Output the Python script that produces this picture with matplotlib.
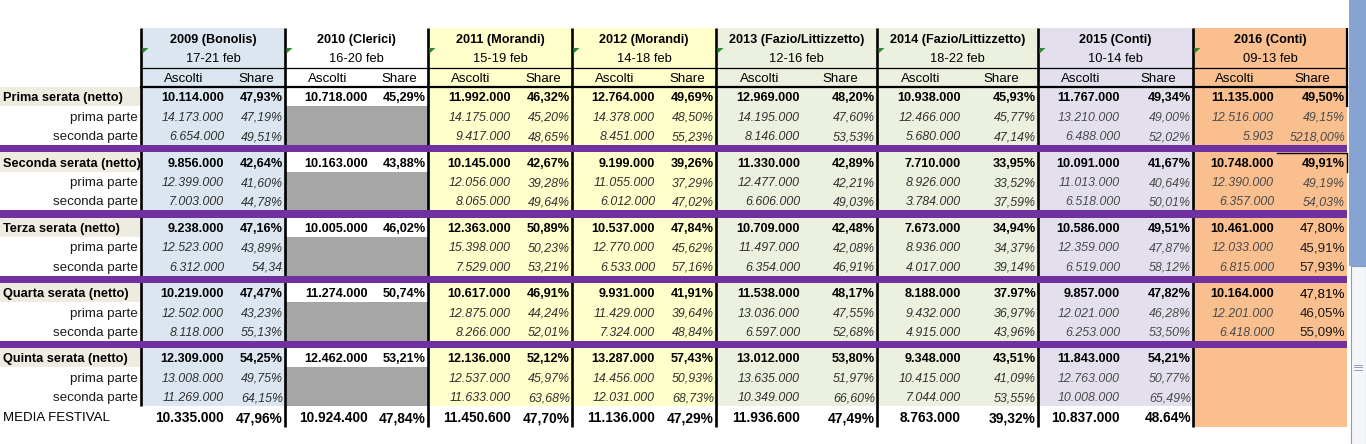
import matplotlib
matplotlib.use("Agg")
import matplotlib.pyplot as plt
from matplotlib.patches import Rectangle, Polygon

# ---------------- data ----------------
years = ["2009 (Bonolis)", "2010 (Clerici)", "2011 (Morandi)", "2012 (Morandi)",
         "2013 (Fazio/Littizzetto)", "2014 (Fazio/Littizzetto)", "2015 (Conti)", "2016 (Conti)"]
dates = ["17-21 feb", "16-20 feb", "15-19 feb", "14-18 feb", "12-16 feb", "18-22 feb", "10-14 feb", "09-13 feb"]
sub_headers = ["Ascolti", "Share"]
serate = ["Prima serata (netto)", "Seconda serata (netto)", "Terza serata (netto)",
          "Quarta serata (netto)", "Quinta serata (netto)"]
parti = ["prima parte", "seconda parte"]
media_label = "MEDIA FESTIVAL"

# each list: 5 serate x [netto, prima parte, seconda parte]
ascolti_2009 = ["10.114.000", "14.173.000", "6.654.000", "9.856.000", "12.399.000", "7.003.000",
                "9.238.000", "12.523.000", "6.312.000", "10.219.000", "12.502.000", "8.118.000",
                "12.309.000", "13.008.000", "11.269.000"]
share_2009 = ["47,93%", "47,19%", "49,51%", "42,64%", "41,60%", "44,78%", "47,16%", "43,89%", "54,34",
              "47,47%", "43,23%", "55,13%", "54,25%", "49,75%", "64,15%"]
ascolti_2010 = ["10.718.000", None, None, "10.163.000", None, None, "10.005.000", None, None,
                "11.274.000", None, None, "12.462.000", None, None]
share_2010 = ["45,29%", None, None, "43,88%", None, None, "46,02%", None, None,
              "50,74%", None, None, "53,21%", None, None]
ascolti_2011 = ["11.992.000", "14.175.000", "9.417.000", "10.145.000", "12.056.000", "8.065.000",
                "12.363.000", "15.398.000", "7.529.000", "10.617.000", "12.875.000", "8.266.000",
                "12.136.000", "12.537.000", "11.633.000"]
share_2011 = ["46,32%", "45,20%", "48,65%", "42,67%", "39,28%", "49,64%", "50,89%", "50,23%", "53,21%",
              "46,91%", "44,24%", "52,01%", "52,12%", "45,97%", "63,68%"]
ascolti_2012 = ["12.764.000", "14.378.000", "8.451.000", "9.199.000", "11.055.000", "6.012.000",
                "10.537.000", "12.770.000", "6.533.000", "9.931.000", "11.429.000", "7.324.000",
                "13.287.000", "14.456.000", "12.031.000"]
share_2012 = ["49,69%", "48,50%", "55,23%", "39,26%", "37,29%", "47,02%", "47,84%", "45,62%", "57,16%",
              "41,91%", "39,64%", "48,84%", "57,43%", "50,93%", "68,73%"]
ascolti_2013 = ["12.969.000", "14.195.000", "8.146.000", "11.330.000", "12.477.000", "6.606.000",
                "10.709.000", "11.497.000", "6.354.000", "11.538.000", "13.036.000", "6.597.000",
                "13.012.000", "13.635.000", "10.349.000"]
share_2013 = ["48,20%", "47,60%", "53,53%", "42,89%", "42,21%", "49,03%", "42,48%", "42,08%", "46,91%",
              "48,17%", "47,55%", "52,68%", "53,80%", "51,97%", "66,60%"]
ascolti_2014 = ["10.938.000", "12.466.000", "5.680.000", "7.710.000", "8.926.000", "3.784.000",
                "7.673.000", "8.936.000", "4.017.000", "8.188.000", "9.432.000", "4.915.000",
                "9.348.000", "10.415.000", "7.044.000"]
share_2014 = ["45,93%", "45,77%", "47,14%", "33,95%", "33,52%", "37,59%", "34,94%", "34,37%", "39,14%",
              "37.97%", "36,97%", "43,96%", "43,51%", "41,09%", "53,55%"]
ascolti_2015 = ["11.767.000", "13.210.000", "6.488.000", "10.091.000", "11.013.000", "6.518.000",
                "10.586.000", "12.359.000", "6.519.000", "9.857.000", "12.021.000", "6.253.000",
                "11.843.000", "12.763.000", "10.008.000"]
share_2015 = ["49,34%", "49,00%", "52,02%", "41,67%", "40,64%", "50,01%", "49,51%", "47,87%", "58,12%",
              "47,82%", "46,28%", "53,50%", "54,21%", "50,77%", "65,49%"]
ascolti_2016 = ["11.135.000", "12.516.000", "5.903", "10.748.000", "12.390.000", "6.357.000",
                "10.461.000", "12.033.000", "6.815.000", "10.164.000", "12.201.000", "6.418.000",
                None, None, None]
share_2016 = ["49,50%", "49,15%", "5218,00%", "49,91%", "49,19%", "54,03%", "47,80%", "45,91%", "57,93%",
              "47,81%", "46,05%", "55,09%", None, None, None]
media_ascolti = ["10.335.000", "10.924.400", "11.450.600", "11.136.000", "11.936.600", "8.763.000", "10.837.000", None]
media_share = ["47,96%", "47,84%", "47,70%", "47,29%", "47,49%", "39,32%", "48.64%", None]

ascolti = [ascolti_2009, ascolti_2010, ascolti_2011, ascolti_2012,
           ascolti_2013, ascolti_2014, ascolti_2015, ascolti_2016]
shares = [share_2009, share_2010, share_2011, share_2012,
          share_2013, share_2014, share_2015, share_2016]

# ---------------- layout / style ----------------
W, H = 1366, 444
label_w = 141
group_w = [144, 143, 144, 144, 161, 161, 155, 154]
asc_w = [86, 86, 86, 86, 87, 87, 85, 84]
fills = ["#dce6f1", "#ffffff", "#ffffcc", "#ffffcc", "#ebf1de", "#ebf1de", "#e4dfec", "#fabf8f"]
gray_fill = "#a6a6a6"
beige = "#eeece1"
purple = "#7030a0"
header_top, date_line, asc_line = 28, 68, 87
row_h, grp_h = 19.35, 65.25
DY = 1.8  # text baseline nudge
FONT = "Liberation Sans"

fig = plt.figure(figsize=(W / 100, H / 100), dpi=100)
ax = fig.add_axes([0, 0, 1, 1])
ax.set_xlim(0, W)
ax.set_ylim(H, 0)
ax.axis("off")

lefts = [label_w]
for w in group_w:
    lefts.append(lefts[-1] + w)
right_end = lefts[-1]

def rect(x0, y0, x1, y1, color, z=1):
    ax.add_patch(Rectangle((x0, y0), x1 - x0, y1 - y0, facecolor=color, edgecolor="none", zorder=z))

def txt(x, y, s, ha="center", size=9.1, weight="normal", style="normal", color="black"):
    ax.text(x, y + DY, s, ha=ha, va="center", fontsize=size, fontweight=weight, fontstyle=style,
            color=color, family=FONT, zorder=5)

media_top = asc_line + 4 * grp_h + 3 * row_h
media_bot = 427

# backgrounds
for i in range(8):
    x0, x1 = lefts[i], lefts[i + 1]
    rect(x0, header_top, x1, asc_line, fills[i])
    for g in range(5):
        y0 = asc_line + g * grp_h
        rect(x0, y0, x1, y0 + 3 * row_h, fills[i])
        if i == 1:
            rect(x0, y0 + row_h, x1, y0 + 3 * row_h, gray_fill, z=1.5)
    if i == 7:
        rect(x0, media_top, x1, media_bot, fills[i])

# label column
for g in range(5):
    y0 = asc_line + g * grp_h
    rect(0, y0, label_w, y0 + row_h, beige)
    txt(3, y0 + row_h / 2, serate[g], ha="left", size=9.2, weight="bold")
    for k, p in enumerate(parti):
        txt(138, y0 + (k + 1.5) * row_h, p, ha="right", size=9.6, color="#1a1a1a")
txt(3, (media_top + media_bot) / 2, media_label, ha="left", size=9.5)

# vertical lines
for i, x in enumerate(lefts[:-1]):
    yb = media_top if i == 0 else media_bot
    ax.plot([x, x], [header_top, yb], color="black", lw=1.9, zorder=3, solid_capstyle="butt")
ax.plot([right_end, right_end], [header_top, 107], color="black", lw=1.6, zorder=3, solid_capstyle="butt")
# border of one cell (2016 Seconda share)
sx = lefts[7] + asc_w[7]
y1 = asc_line + grp_h
ax.plot([sx, right_end, right_end], [y1 + 0.8, y1 + 0.8, y1 + row_h], color="black", lw=1.0, zorder=3)

# horizontal lines
ax.plot([label_w, right_end], [date_line, date_line], color="black", lw=0.9, zorder=3)
ax.plot([label_w, right_end], [asc_line, asc_line], color="black", lw=1.6, zorder=3)

# purple separators
for g in range(4):
    y0 = asc_line + g * grp_h + 3 * row_h
    rect(0, y0, right_end, asc_line + (g + 1) * grp_h, purple, z=4)

# headers
for i in range(8):
    x0, x1 = lefts[i], lefts[i + 1]
    xs = x0 + asc_w[i]
    txt((x0 + x1) / 2, 38.0, years[i], size=9.1, weight="bold")
    txt((x0 + x1) / 2, 57.0, dates[i], size=9.3)
    txt((x0 + xs) / 2, 77.5, sub_headers[0], size=9.6)
    txt((xs + x1) / 2, 77.5, sub_headers[1], size=9.6)
    ax.add_patch(Polygon([(x0 + 1.5, 48), (x0 + 7.5, 48), (x0 + 1.5, 53.5)],
                         closed=True, facecolor="#2f8a2f", edgecolor="none", zorder=4))

# values
for i in range(8):
    x0, x1 = lefts[i], lefts[i + 1]
    xs = x0 + asc_w[i]
    ital_col = "#4a4a4a" if i >= 6 else "#303030"
    for g in range(5):
        for k in range(3):
            idx = g * 3 + k
            y = asc_line + g * grp_h + (k + 0.5) * row_h
            a, s = ascolti[i][idx], shares[i][idx]
            plain = (i == 7 and g in (2, 3))
            if k == 0:
                if a:
                    txt(xs - 3, y, a, ha="right", size=9.1, weight="bold")
                if s:
                    txt(x1 - 2, y, s, ha="right", size=9.6 if plain else 9.1,
                        weight="normal" if plain else "bold")
            else:
                if a:
                    txt(xs - 3, y, a, ha="right", size=8.9, style="italic", color=ital_col)
                if s:
                    if plain:
                        txt(x1 - 2, y, s, ha="right", size=9.6, color="#1a1a1a")
                    else:
                        txt(x1 - 2, y, s, ha="right", size=8.9, style="italic", color=ital_col)
    ym = (media_top + media_bot) / 2
    if media_ascolti[i]:
        txt(xs - 3, ym, media_ascolti[i], ha="right", size=9.9, weight="bold")
    if media_share[i]:
        txt(x1 - 2, ym, media_share[i], ha="right", size=9.9, weight="bold")

# scrollbar
rect(1349, 0, W, 266, "#87a3d2", z=2)
ax.add_patch(Rectangle((1350.5, 266), 15, 200, facecolor="#f4f6fa", edgecolor="#8a9bb8", lw=0.8, zorder=2))
for dy in (-2.5, 0, 2.5):
    ax.plot([1354, 1362], [367 + dy, 367 + dy], color="#8090a8", lw=0.6, zorder=3)

fig.savefig("out.png", dpi=100)
